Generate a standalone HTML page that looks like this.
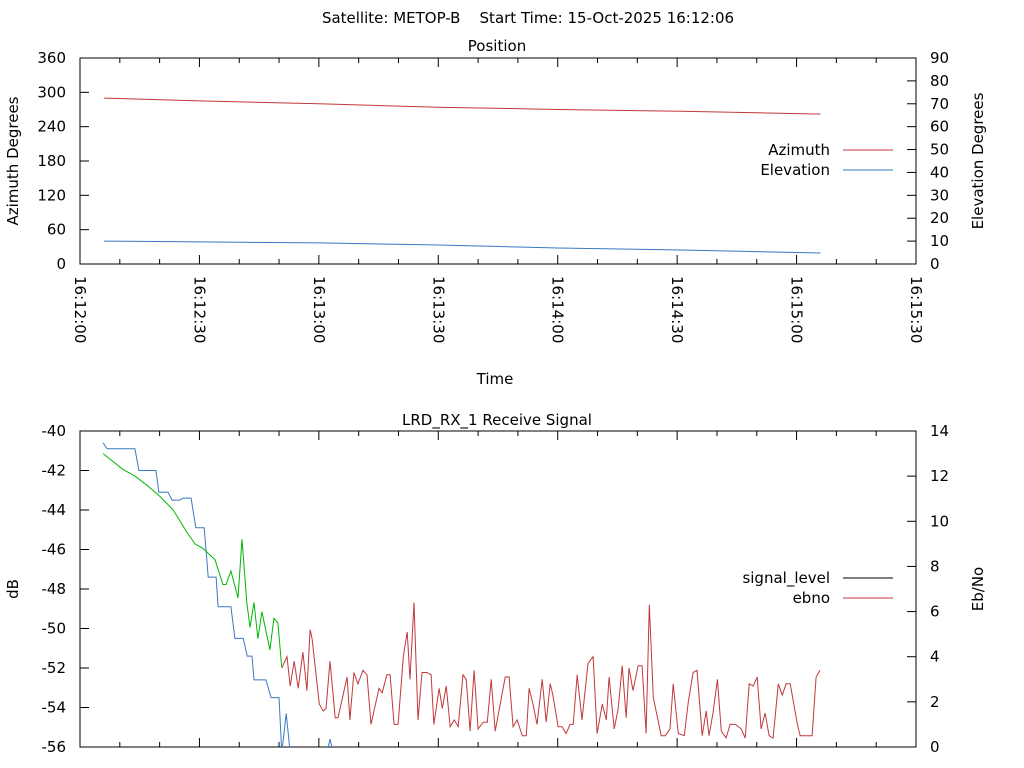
<!DOCTYPE html>
<html><head><meta charset="utf-8"><style>
body{margin:0;background:#fff}
svg{display:block;font-family:"DejaVu Sans","Liberation Sans",sans-serif;font-size:15px}
</style></head><body>
<svg id="c" width="1024" height="768" viewBox="0 0 1024 768">
<defs>
<clipPath id="clipTop"><rect x="80" y="58" width="836" height="206"/></clipPath>
<clipPath id="clipBot"><rect x="80" y="431" width="836" height="316"/></clipPath>
</defs>
<text x="528" y="23" text-anchor="middle" xml:space="preserve" style="white-space:pre">Satellite: METOP-B    Start Time: 15-Oct-2025 16:12:06</text>
<text x="497" y="51" text-anchor="middle">Position</text>
<text x="497" y="425" text-anchor="middle">LRD_RX_1 Receive Signal</text>
<text x="495" y="384" text-anchor="middle">Time</text>
<text transform="translate(18,161) rotate(-90)" text-anchor="middle">Azimuth Degrees</text>
<text transform="translate(983,161) rotate(-90)" text-anchor="middle">Elevation Degrees</text>
<text transform="translate(18,589) rotate(-90)" text-anchor="middle">dB</text>
<text transform="translate(983,589) rotate(-90)" text-anchor="middle">Eb/No</text>
<g id="g"></g>
</svg>
<script>
// Top chart data (seconds after 16:12:00)
const azT=[6,30,60,90,120,151,186];
const azV=[290,285,280,274,270,267,262];
const elT=[6,60,90,120,151,186];
const elV=[10.0,9.2,8.3,7.0,6.1,4.8];
// Bottom chart data
const sigT=[5.8,6.8,13.8,14.8,19.1,19.8,22.1,23.1,25.1,25.9,27.9,29.1,31.2,32.2,34.2,34.7,37.9,38.9,41.0,42.0,43.2,43.7,46.7,48.0,50.0,50.7,51.8,52.8,62.1,62.8,63.6,186];
const sigV=[-40.6,-40.9,-40.9,-42.0,-42.0,-43.1,-43.1,-43.5,-43.5,-43.4,-43.4,-44.9,-44.9,-47.4,-47.4,-48.9,-48.9,-50.5,-50.5,-51.4,-51.4,-52.6,-52.6,-53.5,-53.5,-56.3,-54.3,-56.3,-56.3,-55.6,-56.3,-58];
const ebGT=[5.8,10.8,13.8,16.8,20.1,23.4,26.9,28.9,30.9,33.9,35.9,36.7,37.9,39.7,40.7,41.9,42.7,43.7,44.7,45.7,47.7,48.7,49.7,50.7];
const ebGV=[13.0,12.3,12.0,11.6,11.1,10.5,9.5,9.0,8.8,8.3,7.2,7.2,7.8,6.6,9.2,6.4,5.3,6.4,4.8,6.0,4.3,5.7,5.5,3.5];
const ebRT=[50.7,52.0,52.8,53.8,54.8,56.0,57.0,57.8,58.3,60.1,61.1,61.8,62.8,64.1,64.8,67.1,67.8,68.8,69.8,71.1,72.1,73.1,75.1,75.9,77.1,77.9,78.9,79.9,81.2,82.2,82.9,83.9,84.9,85.9,87.2,88.2,88.9,90.2,91.0,92.0,93.0,94.0,95.0,96.2,97.0,98.0,99.0,100.0,101.3,102.3,103.3,104.3,106.8,107.8,108.8,109.8,111.1,112.1,112.8,113.8,114.8,116.1,117.1,118.1,118.8,120.1,121.1,122.1,123.1,123.9,124.9,126.1,127.6,128.9,129.9,131.2,132.2,132.9,134.2,135.2,136.2,137.2,137.9,138.9,140.2,141.2,142.2,143.0,144.0,146.0,147.0,148.2,149.0,150.3,151.8,152.8,154.0,155.0,156.3,157.3,158.0,159.0,160.1,161.1,162.3,163.3,164.6,166.1,167.1,168.1,169.1,170.1,171.1,172.1,173.1,174.1,175.4,176.4,177.4,178.4,180.2,180.9,182.7,183.9,184.9,185.9];
const ebRV=[3.5,4.0,2.7,3.8,2.6,4.2,2.5,5.2,4.8,1.9,1.6,1.7,3.8,1.3,1.3,3.1,1.2,3.3,2.8,3.4,3.2,1.0,2.6,2.4,3.2,3.2,1.0,1.0,4.0,5.1,3.0,6.4,1.2,3.3,3.3,3.2,1.0,2.6,1.7,2.7,0.9,1.2,0.9,3.2,3.0,0.7,3.4,0.8,1.1,1.1,3.0,0.7,3.1,3.1,0.9,1.2,0.5,0.5,2.6,1.9,1.0,3.0,1.1,2.8,2.3,0.9,0.9,0.6,1.0,1.0,3.2,1.2,3.7,4.0,0.6,1.9,1.2,3.1,0.8,1.7,3.6,1.3,3.5,2.5,3.6,3.6,0.6,6.3,2.2,0.5,0.5,0.8,2.8,0.6,0.5,2.0,3.3,3.4,0.5,1.6,0.5,1.5,3.0,0.7,0.4,1.0,1.0,0.8,0.4,2.8,2.7,3.1,0.8,1.5,0.5,0.4,2.8,2.3,2.8,2.8,1.0,0.5,0.5,0.5,3.1,3.4];
const xTickLabels=["16:12:00","16:12:30","16:13:00","16:13:30","16:14:00","16:14:30","16:15:00","16:15:30"];
const azTicks=[0,60,120,180,240,300,360];
const elTicks=[0,10,20,30,40,50,60,70,80,90];
const dbTicks=[-56,-54,-52,-50,-48,-46,-44,-42,-40];
const ebTicks=[0,2,4,6,8,10,12,14];

const NS="http://www.w3.org/2000/svg", G=document.getElementById('g');
const X0=80,X1=916,TMAX=210;
const sx=t=>X0+(X1-X0)*t/TMAX;
const T={y0:264,y1:58}, B={y0:747,y1:431};
const yAz=v=>T.y0-(T.y0-T.y1)*v/360, yEl=v=>T.y0-(T.y0-T.y1)*v/90;
const yDb=v=>B.y0-(B.y0-B.y1)*(v+56)/16, yEb=v=>B.y0-(B.y0-B.y1)*v/14;
function el(tag,a,txt){const e=document.createElementNS(NS,tag);for(const k in a)e.setAttribute(k,a[k]);if(txt!=null)e.textContent=txt;G.appendChild(e);return e;}
function frame(p,name){
  const r=el('rect',{x:X0,y:p.y1,width:X1-X0,height:p.y0-p.y1,fill:'none',stroke:'#000','stroke-width':1});
  
  
  for(let s=0;s<=TMAX;s+=10){const x=sx(s),len=(s%30===0)?9:5;
    el('line',{x1:x,x2:x,y1:p.y0,y2:p.y0-len,stroke:'#000'});
    el('line',{x1:x,x2:x,y1:p.y1,y2:p.y1+len,stroke:'#000'});}
}
function yticks(ticks,f,side,p,name){
  ticks.forEach(v=>{const y=f(v);
    if(side==='l'){el('line',{x1:X0,x2:X0+9,y1:y,y2:y,stroke:'#000'});
      const t=el('text',{x:66,y:y+5,'text-anchor':'end'},String(v));
      
      }
    else{el('line',{x1:X1,x2:X1-9,y1:y,y2:y,stroke:'#000'});
      const t=el('text',{x:930,y:y+5},String(v));
      
      }
  });
}
function line(ts,vs,f,color,clip,name){
  const pts=ts.map((t,i)=>sx(t).toFixed(1)+','+f(vs[i]).toFixed(1)).join(' ');
  const l=el('polyline',{points:pts,fill:'none',stroke:color,'stroke-width':1,'clip-path':'url(#'+clip+')'});
  
  
}
function legend(y,label,color,name){
  const t=el('text',{x:830,y:y+5,'text-anchor':'end'},label);
  
  
  const l=el('line',{x1:843,x2:893,y1:y,y2:y,stroke:color,'stroke-width':1});
  
  
}
frame(T,'position');frame(B,'signal');
yticks(azTicks,yAz,'l',T,'azimuth');yticks(elTicks,yEl,'r',T,'elevation');
yticks(dbTicks,yDb,'l',B,'db');yticks(ebTicks,yEb,'r',B,'ebno');
xTickLabels.forEach((s,i)=>{const x=sx(i*30);
  const t=el('text',{transform:'translate('+(x-5)+',276) rotate(90)'},s);
  
  });
line(azT,azV,yAz,'#c0393b','clipTop','azimuth-line');
line(elT,elV,yEl,'#3a78c3','clipTop','elevation-line');
line(sigT,sigV,yDb,'#3a78c3','clipBot','signal-level-line');
line(ebGT,ebGV,yEb,'#00b800','clipBot','ebno-line-locked');
line(ebRT,ebRV,yEb,'#c0393b','clipBot','ebno-line');
legend(150,'Azimuth','#c0393b','azimuth');
legend(170,'Elevation','#3a78c3','elevation');
legend(578,'signal_level','#000','signal-level');
legend(598,'ebno','#c0393b','ebno');
</script>
</body></html>
